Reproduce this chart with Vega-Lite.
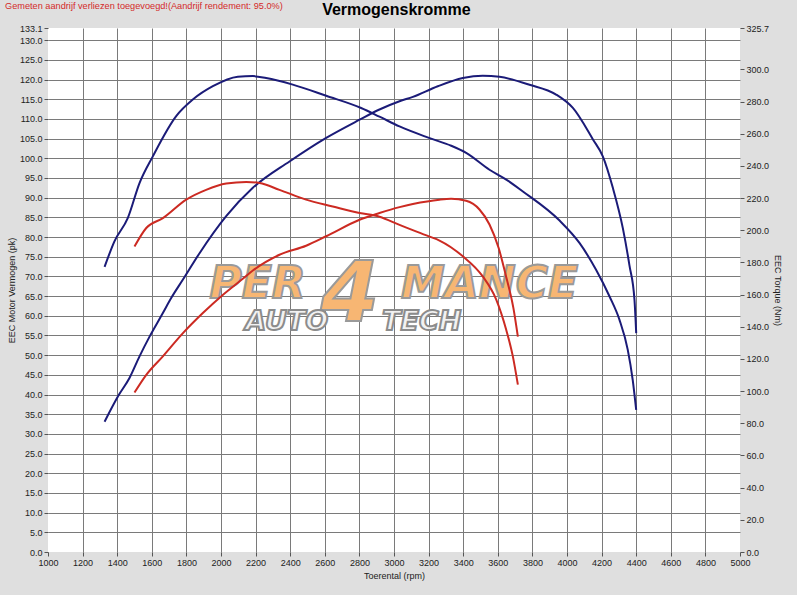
{
  "$schema": "https://vega.github.io/schema/vega-lite/v6.json",
  "width": 692,
  "height": 524,
  "autosize": "none",
  "padding": {"left": 48, "top": 28, "right": 57, "bottom": 43},
  "background": "#dfdfdf",
  "config": {
    "view": {"fill": "white", "stroke": null},
    "axis": {
      "labelFont": "Liberation Sans",
      "labelFontSize": 9,
      "labelColor": "#222222",
      "labelOverlap": false,
      "labelFlush": false,
      "titleFont": "Liberation Sans",
      "titleFontSize": 9,
      "titleFontWeight": "normal",
      "titleColor": "#222222",
      "tickColor": "#555555",
      "tickSize": 4,
      "domain": false,
      "gridColor": "#7a7a7a",
      "gridWidth": 1
    }
  },
  "datasets": {
    "curves": [
      {"run": "tuned", "kind": "power", "rpm": 1327, "value": 33.1},
      {"run": "tuned", "kind": "power", "rpm": 1404, "value": 39.5},
      {"run": "tuned", "kind": "power", "rpm": 1471, "value": 44.2},
      {"run": "tuned", "kind": "power", "rpm": 1529, "value": 49.7},
      {"run": "tuned", "kind": "power", "rpm": 1587, "value": 54.7},
      {"run": "tuned", "kind": "power", "rpm": 1664, "value": 60.7},
      {"run": "tuned", "kind": "power", "rpm": 1712, "value": 64.5},
      {"run": "tuned", "kind": "power", "rpm": 1780, "value": 69.2},
      {"run": "tuned", "kind": "power", "rpm": 1876, "value": 75.9},
      {"run": "tuned", "kind": "power", "rpm": 2030, "value": 85.3},
      {"run": "tuned", "kind": "power", "rpm": 2184, "value": 92.5},
      {"run": "tuned", "kind": "power", "rpm": 2396, "value": 99.2},
      {"run": "tuned", "kind": "power", "rpm": 2608, "value": 105.2},
      {"run": "tuned", "kind": "power", "rpm": 2801, "value": 109.8},
      {"run": "tuned", "kind": "power", "rpm": 2916, "value": 112.4},
      {"run": "tuned", "kind": "power", "rpm": 3032, "value": 114.5},
      {"run": "tuned", "kind": "power", "rpm": 3109, "value": 115.6},
      {"run": "tuned", "kind": "power", "rpm": 3253, "value": 118.3},
      {"run": "tuned", "kind": "power", "rpm": 3398, "value": 120.4},
      {"run": "tuned", "kind": "power", "rpm": 3513, "value": 121.0},
      {"run": "tuned", "kind": "power", "rpm": 3610, "value": 120.7},
      {"run": "tuned", "kind": "power", "rpm": 3783, "value": 118.7},
      {"run": "tuned", "kind": "power", "rpm": 3937, "value": 116.2},
      {"run": "tuned", "kind": "power", "rpm": 4034, "value": 112.8},
      {"run": "tuned", "kind": "power", "rpm": 4150, "value": 104.8},
      {"run": "tuned", "kind": "power", "rpm": 4207, "value": 100.5},
      {"run": "tuned", "kind": "power", "rpm": 4265, "value": 92.5},
      {"run": "tuned", "kind": "power", "rpm": 4323, "value": 82.2},
      {"run": "tuned", "kind": "power", "rpm": 4361, "value": 72.8},
      {"run": "tuned", "kind": "power", "rpm": 4390, "value": 64.1},
      {"run": "tuned", "kind": "power", "rpm": 4400, "value": 55.6},

      {"run": "tuned", "kind": "torque", "rpm": 1327, "value": 177.2},
      {"run": "tuned", "kind": "torque", "rpm": 1384, "value": 193.1},
      {"run": "tuned", "kind": "torque", "rpm": 1461, "value": 207.5},
      {"run": "tuned", "kind": "torque", "rpm": 1529, "value": 229.3},
      {"run": "tuned", "kind": "torque", "rpm": 1606, "value": 245.9},
      {"run": "tuned", "kind": "torque", "rpm": 1741, "value": 270.9},
      {"run": "tuned", "kind": "torque", "rpm": 1837, "value": 281.2},
      {"run": "tuned", "kind": "torque", "rpm": 1953, "value": 289.5},
      {"run": "tuned", "kind": "torque", "rpm": 2097, "value": 295.4},
      {"run": "tuned", "kind": "torque", "rpm": 2184, "value": 295.8},
      {"run": "tuned", "kind": "torque", "rpm": 2261, "value": 294.6},
      {"run": "tuned", "kind": "torque", "rpm": 2415, "value": 290.5},
      {"run": "tuned", "kind": "torque", "rpm": 2608, "value": 283.6},
      {"run": "tuned", "kind": "torque", "rpm": 2810, "value": 276.0},
      {"run": "tuned", "kind": "torque", "rpm": 2916, "value": 270.6},
      {"run": "tuned", "kind": "torque", "rpm": 3032, "value": 264.5},
      {"run": "tuned", "kind": "torque", "rpm": 3202, "value": 257.4},
      {"run": "tuned", "kind": "torque", "rpm": 3331, "value": 252.5},
      {"run": "tuned", "kind": "torque", "rpm": 3417, "value": 248.1},
      {"run": "tuned", "kind": "torque", "rpm": 3552, "value": 237.6},
      {"run": "tuned", "kind": "torque", "rpm": 3649, "value": 231.5},
      {"run": "tuned", "kind": "torque", "rpm": 3745, "value": 224.1},
      {"run": "tuned", "kind": "torque", "rpm": 3957, "value": 206.0},
      {"run": "tuned", "kind": "torque", "rpm": 4072, "value": 192.1},
      {"run": "tuned", "kind": "torque", "rpm": 4168, "value": 175.4},
      {"run": "tuned", "kind": "torque", "rpm": 4246, "value": 158.8},
      {"run": "tuned", "kind": "torque", "rpm": 4303, "value": 144.4},
      {"run": "tuned", "kind": "torque", "rpm": 4351, "value": 125.8},
      {"run": "tuned", "kind": "torque", "rpm": 4380, "value": 106.9},
      {"run": "tuned", "kind": "torque", "rpm": 4400, "value": 88.3},

      {"run": "stock", "kind": "power", "rpm": 1500, "value": 40.5},
      {"run": "stock", "kind": "power", "rpm": 1568, "value": 45.0},
      {"run": "stock", "kind": "power", "rpm": 1664, "value": 49.7},
      {"run": "stock", "kind": "power", "rpm": 1780, "value": 55.6},
      {"run": "stock", "kind": "power", "rpm": 1895, "value": 60.7},
      {"run": "stock", "kind": "power", "rpm": 2010, "value": 65.3},
      {"run": "stock", "kind": "power", "rpm": 2126, "value": 69.4},
      {"run": "stock", "kind": "power", "rpm": 2184, "value": 71.5},
      {"run": "stock", "kind": "power", "rpm": 2338, "value": 75.5},
      {"run": "stock", "kind": "power", "rpm": 2492, "value": 77.8},
      {"run": "stock", "kind": "power", "rpm": 2608, "value": 80.2},
      {"run": "stock", "kind": "power", "rpm": 2801, "value": 84.4},
      {"run": "stock", "kind": "power", "rpm": 2916, "value": 86.1},
      {"run": "stock", "kind": "power", "rpm": 3032, "value": 87.6},
      {"run": "stock", "kind": "power", "rpm": 3109, "value": 88.4},
      {"run": "stock", "kind": "power", "rpm": 3263, "value": 89.5},
      {"run": "stock", "kind": "power", "rpm": 3330, "value": 89.7},
      {"run": "stock", "kind": "power", "rpm": 3417, "value": 89.2},
      {"run": "stock", "kind": "power", "rpm": 3494, "value": 87.0},
      {"run": "stock", "kind": "power", "rpm": 3552, "value": 83.2},
      {"run": "stock", "kind": "power", "rpm": 3605, "value": 77.2},
      {"run": "stock", "kind": "power", "rpm": 3645, "value": 70.5},
      {"run": "stock", "kind": "power", "rpm": 3690, "value": 62.0},
      {"run": "stock", "kind": "power", "rpm": 3716, "value": 54.7},

      {"run": "stock", "kind": "torque", "rpm": 1500, "value": 189.9},
      {"run": "stock", "kind": "torque", "rpm": 1568, "value": 201.4},
      {"run": "stock", "kind": "torque", "rpm": 1664, "value": 207.5},
      {"run": "stock", "kind": "torque", "rpm": 1799, "value": 219.0},
      {"run": "stock", "kind": "torque", "rpm": 1914, "value": 225.1},
      {"run": "stock", "kind": "torque", "rpm": 2030, "value": 229.0},
      {"run": "stock", "kind": "torque", "rpm": 2146, "value": 230.0},
      {"run": "stock", "kind": "torque", "rpm": 2223, "value": 229.3},
      {"run": "stock", "kind": "torque", "rpm": 2338, "value": 225.1},
      {"run": "stock", "kind": "torque", "rpm": 2492, "value": 219.0},
      {"run": "stock", "kind": "torque", "rpm": 2646, "value": 214.8},
      {"run": "stock", "kind": "torque", "rpm": 2801, "value": 210.7},
      {"run": "stock", "kind": "torque", "rpm": 2916, "value": 208.4},
      {"run": "stock", "kind": "torque", "rpm": 3032, "value": 203.3},
      {"run": "stock", "kind": "torque", "rpm": 3202, "value": 196.2},
      {"run": "stock", "kind": "torque", "rpm": 3263, "value": 193.6},
      {"run": "stock", "kind": "torque", "rpm": 3398, "value": 183.8},
      {"run": "stock", "kind": "torque", "rpm": 3513, "value": 171.3},
      {"run": "stock", "kind": "torque", "rpm": 3591, "value": 156.9},
      {"run": "stock", "kind": "torque", "rpm": 3649, "value": 138.0},
      {"run": "stock", "kind": "torque", "rpm": 3687, "value": 121.6},
      {"run": "stock", "kind": "torque", "rpm": 3716, "value": 104.0}
    ],
    "logo": [
      {"text": "PER", "rpm": 2211, "value": 67.9, "size": 44, "part": "mark"},
      {"text": "4", "rpm": 2745, "value": 65.0, "size": 84, "part": "mark"},
      {"text": "MANCE", "rpm": 3552, "value": 67.9, "size": 44, "part": "mark"},
      {"text": "AUTO", "rpm": 2380, "value": 58.5, "size": 27, "part": "sub"},
      {"text": "TECH", "rpm": 3160, "value": 58.5, "size": 27, "part": "sub"}
    ],
    "captions": [
      {"text": "Vermogenskromme", "rpm": 3014, "value": 133.1, "kind": "title"},
      {"text": "Gemeten aandrijf verliezen toegevoegd!(Aandrijf rendement: 95.0%)", "rpm": 1000, "value": 133.1, "kind": "note"}
    ]
  },
  "encoding": {
    "x": {
      "field": "rpm",
      "type": "quantitative",
      "title": "Toerental (rpm)",
      "scale": {"domain": [1000, 5000], "nice": false, "zero": false},
      "axis": {
        "values": [1000, 1200, 1400, 1600, 1800, 2000, 2200, 2400, 2600, 2800, 3000, 3200, 3400, 3600, 3800, 4000, 4200, 4400, 4600, 4800, 5000],
        "format": "d",
        "labelFlush": false,
        "labelOverlap": false,
        "labelPadding": 2,
        "titlePadding": 4,
        "grid": true,
        "gridOpacity": {"condition": {"test": "datum.value <= 1000 || datum.value >= 5000", "value": 0}, "value": 1}
      }
    }
  },
  "layer": [
    {
      "encoding": {
        "y": {
          "field": "value",
          "type": "quantitative",
          "title": "EEC Motor Vermogen (pk)",
          "scale": {"domain": [0, 133.1], "nice": false},
          "axis": {
            "values": [0, 5, 10, 15, 20, 25, 30, 35, 40, 45, 50, 55, 60, 65, 70, 75, 80, 85, 90, 95, 100, 105, 110, 115, 120, 125, 130, 133.1],
            "format": ".1f",
            "labelFlush": false,
            "labelOverlap": false,
            "labelPadding": 2,
            "titlePadding": 3,
            "grid": true,
            "gridOpacity": {"condition": {"test": "datum.value <= 0 || datum.value > 131", "value": 0}, "value": 1}
          }
        }
      },
      "layer": [
        {
          "data": {"name": "logo"},
          "transform": [{"filter": "datum.part == 'mark'"}],
          "mark": {
            "type": "text",
            "font": "DejaVu Sans",
            "fontWeight": "bold",
            "fontStyle": "italic",
            "baseline": "middle",
            "align": "center",
            "fill": "#f7b673",
            "stroke": "#9a9a9a",
            "strokeWidth": 2
          },
          "encoding": {
            "text": {"field": "text"},
            "size": {"field": "size", "type": "quantitative", "scale": null}
          }
        },
        {
          "data": {"name": "logo"},
          "transform": [{"filter": "datum.part == 'sub'"}],
          "mark": {
            "type": "text",
            "font": "DejaVu Sans",
            "fontWeight": "bold",
            "fontStyle": "italic",
            "baseline": "middle",
            "align": "center",
            "fill": "#f2f2f2",
            "stroke": "#8c8c8c",
            "strokeWidth": 2
          },
          "encoding": {
            "text": {"field": "text"},
            "size": {"field": "size", "type": "quantitative", "scale": null}
          }
        },
        {
          "data": {"name": "captions"},
          "transform": [{"filter": "datum.kind == 'note'"}],
          "mark": {
            "type": "text",
            "font": "Liberation Sans",
            "fontSize": 9.2,
            "align": "left",
            "baseline": "middle",
            "dx": -43,
            "dy": -22,
            "color": "#d42a2a"
          },
          "encoding": {
            "text": {"field": "text"}
          }
        },
        {
          "data": {"name": "captions"},
          "transform": [{"filter": "datum.kind == 'title'"}],
          "mark": {
            "type": "text",
            "font": "Liberation Sans",
            "fontSize": 16,
            "fontWeight": "bold",
            "align": "center",
            "baseline": "middle",
            "dy": -18,
            "color": "#000000"
          },
          "encoding": {
            "text": {"field": "text"}
          }
        },
        {
          "data": {"name": "curves"},
          "transform": [{"filter": "datum.kind == 'power'"}],
          "mark": {"type": "line", "interpolate": "monotone", "strokeWidth": 2},
          "encoding": {
            "color": {
              "field": "run",
              "type": "nominal",
              "scale": {"domain": ["tuned", "stock"], "range": ["#1b1b78", "#cc2a22"]},
              "legend": null
            }
          }
        }
      ]
    },
    {
      "data": {"name": "curves"},
      "transform": [{"filter": "datum.kind == 'torque'"}],
      "mark": {"type": "line", "interpolate": "monotone", "strokeWidth": 2},
      "encoding": {
        "y": {
          "field": "value",
          "type": "quantitative",
          "title": "EEC Torque (Nm)",
          "scale": {"domain": [0, 325.7], "nice": false},
          "axis": {
            "orient": "right",
            "values": [0, 20, 40, 60, 80, 100, 120, 140, 160, 180, 200, 220, 240, 260, 280, 300, 325.7],
            "format": ".1f",
            "labelFlush": false,
            "labelOverlap": false,
            "labelPadding": 2,
            "titlePadding": 4,
            "grid": false
          }
        },
        "color": {
          "field": "run",
          "type": "nominal",
          "scale": {"domain": ["tuned", "stock"], "range": ["#1b1b78", "#cc2a22"]},
          "legend": null
        }
      }
    }
  ],
  "resolve": {"scale": {"y": "independent"}}
}
